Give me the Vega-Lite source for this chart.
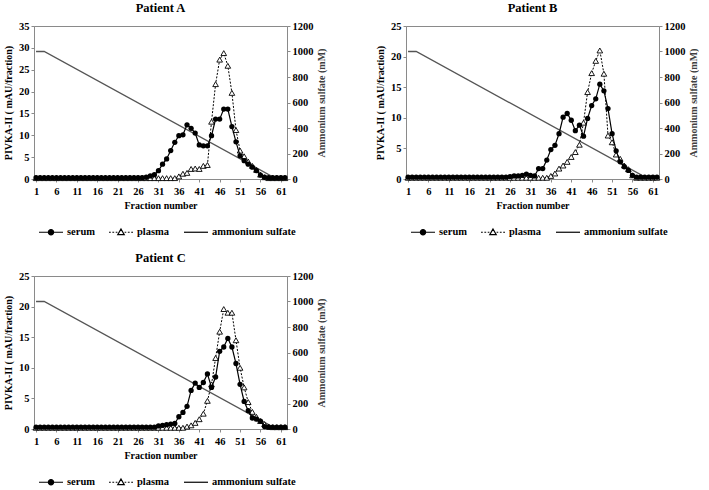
{
"$schema": "https://vega.github.io/schema/vega-lite/v6.json",
"background": "white",
"padding": {"left": 3, "top": 1, "right": 0, "bottom": 0},
"datasets": {
"d": [
{"f":1,"As":0.3,"Ap":0.2,"Bs":0.3,"Bp":0.2,"Cs":0.3,"Cp":0.2},
{"f":2,"As":0.3,"Ap":0.2,"Bs":0.3,"Bp":0.2,"Cs":0.3,"Cp":0.2},
{"f":3,"As":0.3,"Ap":0.2,"Bs":0.3,"Bp":0.2,"Cs":0.3,"Cp":0.2},
{"f":4,"As":0.3,"Ap":0.2,"Bs":0.3,"Bp":0.2,"Cs":0.3,"Cp":0.2},
{"f":5,"As":0.3,"Ap":0.2,"Bs":0.3,"Bp":0.2,"Cs":0.3,"Cp":0.2},
{"f":6,"As":0.3,"Ap":0.2,"Bs":0.3,"Bp":0.2,"Cs":0.3,"Cp":0.2},
{"f":7,"As":0.3,"Ap":0.2,"Bs":0.3,"Bp":0.2,"Cs":0.3,"Cp":0.2},
{"f":8,"As":0.3,"Ap":0.2,"Bs":0.3,"Bp":0.2,"Cs":0.3,"Cp":0.2},
{"f":9,"As":0.3,"Ap":0.2,"Bs":0.3,"Bp":0.2,"Cs":0.3,"Cp":0.2},
{"f":10,"As":0.3,"Ap":0.2,"Bs":0.3,"Bp":0.2,"Cs":0.3,"Cp":0.2},
{"f":11,"As":0.3,"Ap":0.2,"Bs":0.3,"Bp":0.2,"Cs":0.3,"Cp":0.2},
{"f":12,"As":0.3,"Ap":0.2,"Bs":0.3,"Bp":0.2,"Cs":0.3,"Cp":0.2},
{"f":13,"As":0.3,"Ap":0.2,"Bs":0.3,"Bp":0.2,"Cs":0.3,"Cp":0.2},
{"f":14,"As":0.3,"Ap":0.2,"Bs":0.3,"Bp":0.2,"Cs":0.3,"Cp":0.2},
{"f":15,"As":0.3,"Ap":0.2,"Bs":0.3,"Bp":0.2,"Cs":0.3,"Cp":0.2},
{"f":16,"As":0.3,"Ap":0.2,"Bs":0.3,"Bp":0.2,"Cs":0.3,"Cp":0.2},
{"f":17,"As":0.3,"Ap":0.2,"Bs":0.3,"Bp":0.2,"Cs":0.3,"Cp":0.2},
{"f":18,"As":0.3,"Ap":0.2,"Bs":0.3,"Bp":0.2,"Cs":0.3,"Cp":0.2},
{"f":19,"As":0.3,"Ap":0.2,"Bs":0.3,"Bp":0.2,"Cs":0.3,"Cp":0.2},
{"f":20,"As":0.3,"Ap":0.2,"Bs":0.3,"Bp":0.2,"Cs":0.3,"Cp":0.2},
{"f":21,"As":0.3,"Ap":0.2,"Bs":0.3,"Bp":0.2,"Cs":0.3,"Cp":0.2},
{"f":22,"As":0.3,"Ap":0.2,"Bs":0.3,"Bp":0.2,"Cs":0.3,"Cp":0.2},
{"f":23,"As":0.3,"Ap":0.2,"Bs":0.3,"Bp":0.2,"Cs":0.3,"Cp":0.2},
{"f":24,"As":0.3,"Ap":0.2,"Bs":0.3,"Bp":0.2,"Cs":0.3,"Cp":0.2},
{"f":25,"As":0.3,"Ap":0.2,"Bs":0.3,"Bp":0.2,"Cs":0.3,"Cp":0.2},
{"f":26,"As":0.3,"Ap":0.2,"Bs":0.4,"Bp":0.2,"Cs":0.3,"Cp":0.2},
{"f":27,"As":0.3,"Ap":0.2,"Bs":0.5,"Bp":0.2,"Cs":0.3,"Cp":0.2},
{"f":28,"As":0.4,"Ap":0.2,"Bs":0.5,"Bp":0.2,"Cs":0.3,"Cp":0.2},
{"f":29,"As":0.7,"Ap":0.2,"Bs":0.6,"Bp":0.2,"Cs":0.3,"Cp":0.2},
{"f":30,"As":1.0,"Ap":0.2,"Bs":0.8,"Bp":0.2,"Cs":0.3,"Cp":0.2},
{"f":31,"As":1.9,"Ap":0.2,"Bs":0.6,"Bp":0.2,"Cs":0.5,"Cp":0.2},
{"f":32,"As":3.4,"Ap":0.2,"Bs":0.5,"Bp":0.2,"Cs":0.6,"Cp":0.2},
{"f":33,"As":4.6,"Ap":0.2,"Bs":1.7,"Bp":0.2,"Cs":0.7,"Cp":0.2},
{"f":34,"As":6.5,"Ap":0.2,"Bs":1.7,"Bp":0.2,"Cs":0.8,"Cp":0.2},
{"f":35,"As":8.4,"Ap":0.2,"Bs":3.1,"Bp":0.2,"Cs":0.9,"Cp":0.2},
{"f":36,"As":9.9,"Ap":0.6,"Bs":4.8,"Bp":0.5,"Cs":2.0,"Cp":0.2},
{"f":37,"As":10.1,"Ap":1.2,"Bs":5.5,"Bp":0.9,"Cs":2.7,"Cp":0.2},
{"f":38,"As":12.4,"Ap":1.4,"Bs":7.4,"Bp":1.7,"Cs":3.7,"Cp":0.4},
{"f":39,"As":11.6,"Ap":2.3,"Bs":10.1,"Bp":2.2,"Cs":6.3,"Cp":0.6},
{"f":40,"As":10.5,"Ap":2.4,"Bs":10.7,"Bp":2.8,"Cs":7.5,"Cp":1.0},
{"f":41,"As":7.8,"Ap":2.3,"Bs":9.6,"Bp":3.6,"Cs":6.8,"Cp":1.6},
{"f":42,"As":7.6,"Ap":3.0,"Bs":7.9,"Bp":4.4,"Cs":7.6,"Cp":2.5},
{"f":43,"As":7.6,"Ap":3.2,"Bs":8.8,"Bp":5.6,"Cs":9.0,"Cp":4.6},
{"f":44,"As":9.9,"Ap":13.1,"Bs":7.0,"Bp":9.2,"Cs":6.8,"Cp":7.3},
{"f":45,"As":13.7,"Ap":21.7,"Bs":9.9,"Bp":14.2,"Cs":8.5,"Cp":11.6},
{"f":46,"As":13.7,"Ap":27.3,"Bs":12.0,"Bp":17.3,"Cs":12.7,"Cp":15.9},
{"f":47,"As":16.0,"Ap":28.8,"Bs":13.1,"Bp":19.3,"Cs":13.4,"Cp":19.6},
{"f":48,"As":16.0,"Ap":25.9,"Bs":15.5,"Bp":21.0,"Cs":14.8,"Cp":19.0},
{"f":49,"As":12.0,"Ap":19.7,"Bs":14.4,"Bp":17.2,"Cs":13.4,"Cp":19.0},
{"f":50,"As":8.5,"Ap":11.2,"Bs":11.5,"Bp":7.1,"Cs":10.7,"Cp":14.5},
{"f":51,"As":5.3,"Ap":6.5,"Bs":7.4,"Bp":6.0,"Cs":7.3,"Cp":10.0},
{"f":52,"As":4.2,"Ap":5.2,"Bs":4.6,"Bp":4.0,"Cs":4.5,"Cp":6.8},
{"f":53,"As":3.4,"Ap":4.0,"Bs":2.8,"Bp":3.3,"Cs":3.0,"Cp":4.4},
{"f":54,"As":2.7,"Ap":3.0,"Bs":2.0,"Bp":2.2,"Cs":1.8,"Cp":2.8},
{"f":55,"As":1.9,"Ap":2.1,"Bs":1.4,"Bp":1.6,"Cs":1.6,"Cp":2.0},
{"f":56,"As":0.9,"Ap":1.0,"Bs":0.6,"Bp":0.6,"Cs":1.3,"Cp":1.3},
{"f":57,"As":0.4,"Ap":0.4,"Bs":0.3,"Bp":0.2,"Cs":0.4,"Cp":0.8},
{"f":58,"As":0.3,"Ap":0.2,"Bs":0.3,"Bp":0.2,"Cs":0.3,"Cp":0.4},
{"f":59,"As":0.3,"Ap":0.2,"Bs":0.3,"Bp":0.2,"Cs":0.3,"Cp":0.3},
{"f":60,"As":0.3,"Ap":0.2,"Bs":0.3,"Bp":0.2,"Cs":0.3,"Cp":0.3},
{"f":61,"As":0.3,"Ap":0.2,"Bs":0.3,"Bp":0.2,"Cs":0.3,"Cp":0.3},
{"f":62,"As":0.3,"Ap":0.2,"Bs":0.3,"Bp":0.2,"Cs":0.3,"Cp":0.3}
],
"am": [
{"f":1,"am":1000},{"f":3,"am":1000},{"f":60,"am":0},{"f":62,"am":0}
],
"lg": [
{"s":"serum"},{"s":"plasma"},{"s":"ammonium sulfate"}
]
},
"config": {
"font": "Liberation Serif",
"view": {"stroke": "#8a8a8a", "strokeWidth": 1},
"axis": {"labelFont": "Liberation Serif", "labelFontWeight": "bold", "labelFontSize": 10.5, "labelColor": "black", "titleFont": "Liberation Serif", "titleFontWeight": "bold", "titleFontSize": 10, "titleColor": "black", "grid": false, "domainColor": "#8a8a8a", "tickColor": "#8a8a8a", "tickSize": 3, "labelPadding": 2},
"title": {"font": "Liberation Serif", "fontSize": 12.5, "fontWeight": "bold", "color": "black"},
"legend": {"labelFont": "Liberation Serif", "labelFontWeight": "bold", "labelFontSize": 10.5, "labelColor": "black", "padding": 0}
},
"spacing": 12,
"resolve": {"scale": {"shape": "independent", "fill": "independent", "stroke": "independent"}, "legend": {"shape": "independent", "fill": "independent", "stroke": "independent"}},
"vconcat": [
{"hconcat": [
{
"title": {"text": "Patient A", "frame": "group", "offset": -3, "baseline": "alphabetic"},
"width": 253, "height": 153,
"data": {"name": "d"},
"encoding": {"x": {"field": "f", "type": "quantitative", "scale": {"domain": [0.5, 62.5], "nice": false, "zero": false}, "axis": {"values": [1,6,11,16,21,26,31,36,41,46,51,56,61], "title": "Fraction number", "labelPadding": 4, "titlePadding": 4, "labelFlush": false}}},
"layer": [
{"data": {"name": "am"}, "mark": {"type": "line", "color": "#555555", "strokeWidth": 1.3},
 "encoding": {"y": {"field": "am", "type": "quantitative", "scale": {"domain": [0, 1200], "nice": false}, "axis": {"orient": "right", "values": [0,200,400,600,800,1000,1200], "format": "d", "title": "Ammonium  sulfate (mM)", "titleAngle": 270, "titleBaseline": "top", "titlePadding": 3, "titleColor": "#404040"}}}},
{"encoding": {"y": {"field": "v", "type": "quantitative", "scale": {"domain": [0, 35], "nice": false}, "axis": {"orient": "left", "values": [0,5,10,15,20,25,30,35], "title": "PIVKA-II ( mAU/fraction)", "titlePadding": 5}}},
 "layer": [
  {"transform": [{"fold": ["Ap"], "as": ["s", "v"]}], "mark": {"type": "line", "color": "black", "strokeWidth": 1, "strokeDash": [2, 1.5]}},
  {"transform": [{"fold": ["Ap"], "as": ["s", "v"]}], "mark": {"type": "point", "shape": "triangle-up", "filled": true, "fill": "white", "stroke": "black", "strokeWidth": 0.9, "size": 32, "opacity": 1}},
  {"transform": [{"fold": ["As"], "as": ["s", "v"]}], "mark": {"type": "line", "color": "black", "strokeWidth": 1.2}},
  {"transform": [{"fold": ["As"], "as": ["s", "v"]}], "mark": {"type": "point", "shape": "circle", "filled": true, "color": "black", "size": 28, "opacity": 1}},
  {"data": {"name": "lg"}, "mark": {"type": "point", "filled": false, "color": "black", "strokeWidth": 1.2},
   "encoding": {
    "shape": {"field": "s", "type": "nominal", "scale": {"domain": ["serum", "plasma", "ammonium sulfate"], "range": ["M-1,0H1M0.22,0A0.22,0.22,0,1,1,-0.22,0A0.22,0.22,0,1,1,0.22,0Z", "M-1,0H-0.85M-0.72,0H-0.57M-0.44,0H-0.3M0.3,0H0.44M0.57,0H0.72M0.85,0H1M0,-0.27L0.27,0.2L-0.27,0.2Z", "M-1,0H1"]},
      "legend": {"orient": "none", "legendX": 4, "legendY": 193, "direction": "horizontal", "title": null, "symbolSize": 576, "symbolStrokeColor": "black", "symbolStrokeWidth": 1.2, "symbolOpacity": 1, "labelOffset": 3, "columnPadding": 11}},
    "fill": {"field": "s", "type": "nominal", "scale": {"domain": ["serum", "plasma", "ammonium sulfate"], "range": ["black", "white", "transparent"]},
      "legend": {"orient": "none", "legendX": 4, "legendY": 193, "direction": "horizontal", "title": null, "symbolSize": 576, "symbolStrokeColor": "black", "symbolStrokeWidth": 1.2, "symbolOpacity": 1, "labelOffset": 3, "columnPadding": 11}},
    "stroke": {"field": "s", "type": "nominal", "scale": {"domain": ["serum", "plasma", "ammonium sulfate"], "range": ["black", "black", "black"]},
      "legend": {"orient": "none", "legendX": 4, "legendY": 193, "direction": "horizontal", "title": null, "symbolSize": 576, "symbolStrokeColor": "black", "symbolStrokeWidth": 1.2, "symbolOpacity": 1, "labelOffset": 3, "columnPadding": 11}}
   }}
 ]}
],
"resolve": {"scale": {"y": "independent"}}
},
{
"title": {"text": "Patient B", "frame": "group", "offset": -3, "baseline": "alphabetic"},
"width": 253, "height": 153,
"data": {"name": "d"},
"encoding": {"x": {"field": "f", "type": "quantitative", "scale": {"domain": [0.5, 62.5], "nice": false, "zero": false}, "axis": {"values": [1,6,11,16,21,26,31,36,41,46,51,56,61], "title": "Fraction number", "labelPadding": 4, "titlePadding": 4, "labelFlush": false}}},
"layer": [
{"data": {"name": "am"}, "mark": {"type": "line", "color": "#555555", "strokeWidth": 1.3},
 "encoding": {"y": {"field": "am", "type": "quantitative", "scale": {"domain": [0, 1200], "nice": false}, "axis": {"orient": "right", "values": [0,200,400,600,800,1000,1200], "format": "d", "title": "Ammonium  sulfate (mM)", "titleAngle": 270, "titleBaseline": "top", "titlePadding": 3, "titleColor": "#404040"}}}},
{"encoding": {"y": {"field": "v", "type": "quantitative", "scale": {"domain": [0, 25], "nice": false}, "axis": {"orient": "left", "values": [0,5,10,15,20,25], "title": "PIVKA-II ( mAU/fraction)", "titlePadding": 5}}},
 "layer": [
  {"transform": [{"fold": ["Bp"], "as": ["s", "v"]}], "mark": {"type": "line", "color": "black", "strokeWidth": 1, "strokeDash": [2, 1.5]}},
  {"transform": [{"fold": ["Bp"], "as": ["s", "v"]}], "mark": {"type": "point", "shape": "triangle-up", "filled": true, "fill": "white", "stroke": "black", "strokeWidth": 0.9, "size": 32, "opacity": 1}},
  {"transform": [{"fold": ["Bs"], "as": ["s", "v"]}], "mark": {"type": "line", "color": "black", "strokeWidth": 1.2}},
  {"transform": [{"fold": ["Bs"], "as": ["s", "v"]}], "mark": {"type": "point", "shape": "circle", "filled": true, "color": "black", "size": 28, "opacity": 1}},
  {"data": {"name": "lg"}, "mark": {"type": "point", "filled": false, "color": "black", "strokeWidth": 1.2},
   "encoding": {
    "shape": {"field": "s", "type": "nominal", "scale": {"domain": ["serum", "plasma", "ammonium sulfate"], "range": ["M-1,0H1M0.22,0A0.22,0.22,0,1,1,-0.22,0A0.22,0.22,0,1,1,0.22,0Z", "M-1,0H-0.85M-0.72,0H-0.57M-0.44,0H-0.3M0.3,0H0.44M0.57,0H0.72M0.85,0H1M0,-0.27L0.27,0.2L-0.27,0.2Z", "M-1,0H1"]},
      "legend": {"orient": "none", "legendX": 4, "legendY": 193, "direction": "horizontal", "title": null, "symbolSize": 576, "symbolStrokeColor": "black", "symbolStrokeWidth": 1.2, "symbolOpacity": 1, "labelOffset": 3, "columnPadding": 11}},
    "fill": {"field": "s", "type": "nominal", "scale": {"domain": ["serum", "plasma", "ammonium sulfate"], "range": ["black", "white", "transparent"]},
      "legend": {"orient": "none", "legendX": 4, "legendY": 193, "direction": "horizontal", "title": null, "symbolSize": 576, "symbolStrokeColor": "black", "symbolStrokeWidth": 1.2, "symbolOpacity": 1, "labelOffset": 3, "columnPadding": 11}},
    "stroke": {"field": "s", "type": "nominal", "scale": {"domain": ["serum", "plasma", "ammonium sulfate"], "range": ["black", "black", "black"]},
      "legend": {"orient": "none", "legendX": 4, "legendY": 193, "direction": "horizontal", "title": null, "symbolSize": 576, "symbolStrokeColor": "black", "symbolStrokeWidth": 1.2, "symbolOpacity": 1, "labelOffset": 3, "columnPadding": 11}}
   }}
 ]}
],
"resolve": {"scale": {"y": "independent"}}
}
], "spacing": 48,
"resolve": {"scale": {"shape": "independent", "fill": "independent", "stroke": "independent"}, "legend": {"shape": "independent", "fill": "independent", "stroke": "independent"}}},
{
"title": {"text": "Patient C", "frame": "group", "offset": -3, "baseline": "alphabetic"},
"width": 253, "height": 153,
"data": {"name": "d"},
"encoding": {"x": {"field": "f", "type": "quantitative", "scale": {"domain": [0.5, 62.5], "nice": false, "zero": false}, "axis": {"values": [1,6,11,16,21,26,31,36,41,46,51,56,61], "title": "Fraction number", "labelPadding": 4, "titlePadding": 4, "labelFlush": false}}},
"layer": [
{"data": {"name": "am"}, "mark": {"type": "line", "color": "#555555", "strokeWidth": 1.3},
 "encoding": {"y": {"field": "am", "type": "quantitative", "scale": {"domain": [0, 1200], "nice": false}, "axis": {"orient": "right", "values": [0,200,400,600,800,1000,1200], "format": "d", "title": "Ammonium  sulfate (mM)", "titleAngle": 270, "titleBaseline": "top", "titlePadding": 3, "titleColor": "#404040"}}}},
{"encoding": {"y": {"field": "v", "type": "quantitative", "scale": {"domain": [0, 25], "nice": false}, "axis": {"orient": "left", "values": [0,5,10,15,20,25], "title": "PIVKA-II ( mAU/fraction)", "titlePadding": 5}}},
 "layer": [
  {"transform": [{"fold": ["Cp"], "as": ["s", "v"]}], "mark": {"type": "line", "color": "black", "strokeWidth": 1, "strokeDash": [2, 1.5]}},
  {"transform": [{"fold": ["Cp"], "as": ["s", "v"]}], "mark": {"type": "point", "shape": "triangle-up", "filled": true, "fill": "white", "stroke": "black", "strokeWidth": 0.9, "size": 32, "opacity": 1}},
  {"transform": [{"fold": ["Cs"], "as": ["s", "v"]}], "mark": {"type": "line", "color": "black", "strokeWidth": 1.2}},
  {"transform": [{"fold": ["Cs"], "as": ["s", "v"]}], "mark": {"type": "point", "shape": "circle", "filled": true, "color": "black", "size": 28, "opacity": 1}},
  {"data": {"name": "lg"}, "mark": {"type": "point", "filled": false, "color": "black", "strokeWidth": 1.2},
   "encoding": {
    "shape": {"field": "s", "type": "nominal", "scale": {"domain": ["serum", "plasma", "ammonium sulfate"], "range": ["M-1,0H1M0.22,0A0.22,0.22,0,1,1,-0.22,0A0.22,0.22,0,1,1,0.22,0Z", "M-1,0H-0.85M-0.72,0H-0.57M-0.44,0H-0.3M0.3,0H0.44M0.57,0H0.72M0.85,0H1M0,-0.27L0.27,0.2L-0.27,0.2Z", "M-1,0H1"]},
      "legend": {"orient": "none", "legendX": 4, "legendY": 193, "direction": "horizontal", "title": null, "symbolSize": 576, "symbolStrokeColor": "black", "symbolStrokeWidth": 1.2, "symbolOpacity": 1, "labelOffset": 3, "columnPadding": 11}},
    "fill": {"field": "s", "type": "nominal", "scale": {"domain": ["serum", "plasma", "ammonium sulfate"], "range": ["black", "white", "transparent"]},
      "legend": {"orient": "none", "legendX": 4, "legendY": 193, "direction": "horizontal", "title": null, "symbolSize": 576, "symbolStrokeColor": "black", "symbolStrokeWidth": 1.2, "symbolOpacity": 1, "labelOffset": 3, "columnPadding": 11}},
    "stroke": {"field": "s", "type": "nominal", "scale": {"domain": ["serum", "plasma", "ammonium sulfate"], "range": ["black", "black", "black"]},
      "legend": {"orient": "none", "legendX": 4, "legendY": 193, "direction": "horizontal", "title": null, "symbolSize": 576, "symbolStrokeColor": "black", "symbolStrokeWidth": 1.2, "symbolOpacity": 1, "labelOffset": 3, "columnPadding": 11}}
   }}
 ]}
],
"resolve": {"scale": {"y": "independent"}}
}
]
}
